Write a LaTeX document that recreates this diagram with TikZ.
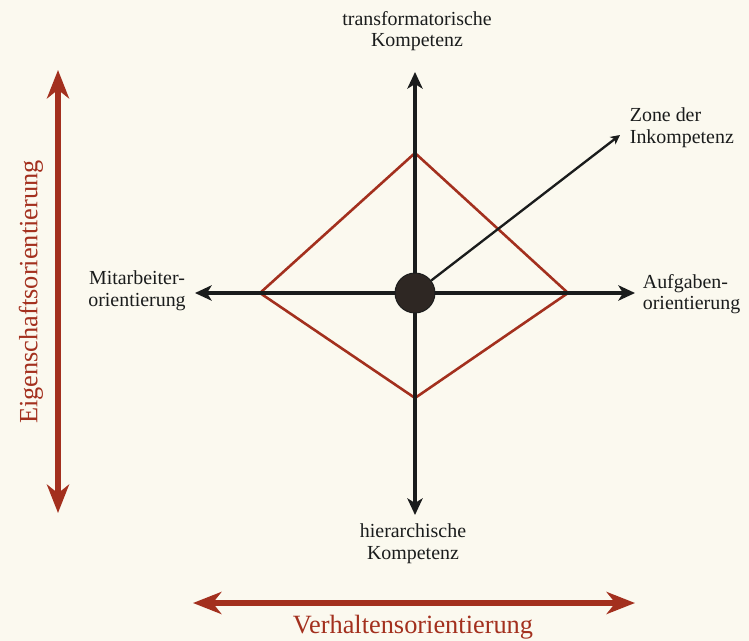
\documentclass[tikz,border=0pt]{standalone}
\usepackage{fontspec}
\setmainfont{Liberation Serif}
\usetikzlibrary{arrows.meta, positioning}
\definecolor{cred}{HTML}{A3301E}
\definecolor{cink}{HTML}{1A1C1C}
\definecolor{cdot}{HTML}{2E2723}
\definecolor{cpaper}{HTML}{FBF9EF}
\tikzset{
  every picture/.style={line width=1.2pt},
  lbl/.style={align=center, text=cink, font=\fontsize{17}{18.5}\selectfont, inner sep=1pt},
  axis/.style={-{Stealth[length=5mm, width=4.6mm, inset=1.4mm]}, draw=cink, line width=2.8pt},
  pointer/.style={-{Stealth[length=2.8mm, width=2.8mm, inset=0.8mm]}, draw=cink, line width=2pt},
  dim/.style={{Stealth[length=8.5mm, width=6.6mm, inset=2.6mm]}-{Stealth[length=8.5mm, width=6.6mm, inset=2.6mm]}, draw=cred, line width=4.5pt},
  dimlbl/.style={text=cred, font=\fontsize{22.5}{25}\selectfont, inner sep=0pt},
  zone/.style={draw=cred, line width=2.2pt, line join=miter},
}
\begin{document}
\begin{tikzpicture}[x=0.03cm, y=-0.03cm]
  \fill[cpaper] (0,0) rectangle (749,641);
  \useasboundingbox (0,0) rectangle (749,641);
  % diamond zone
  \coordinate (dt) at (415,153);
  \coordinate (dr) at (568,293);
  \coordinate (db) at (415,398);
  \coordinate (dl) at (260,293);
  \draw[zone] (dt) -- (dr) -- (db) -- (dl) -- cycle;
  % axes
  \coordinate (o) at (415,293);
  \coordinate (ttip) at (415,72);
  \coordinate (btip) at (415,515);
  \coordinate (ltip) at (195,293);
  \coordinate (rtip) at (635,293);
  \foreach \t in {ttip, btip, ltip, rtip} \draw[axis] (o) -- (\t);
  \node[circle, fill=cdot, draw=cink, line width=0.8pt, minimum size=1.2cm, inner sep=0pt] (c) at (o) {};
  % labels
  \node[lbl] (top) at (417,31) {transformatorische\\Kompetenz};
  \node[lbl] (bot) at (413,544) {hierarchische\\Kompetenz};
  \node[lbl] (left) at (137,291) {Mitarbeiter-\\orientierung};
  \node[lbl, align=left, anchor=west] (right) at (641,294) {Aufgaben-\\orientierung};
  \node[lbl, align=left, anchor=west] (zone) at (628,128) {Zone der\\Inkompetenz};
  \coordinate (ztip) at (620,135);
  \draw[pointer] (c) -- (ztip);
  % outer scales
  \coordinate (e1) at (58,70);
  \coordinate (e2) at (58,513);
  \draw[dim] (e1) -- (e2);
  \node[dimlbl, rotate=90] (eig) at (31,292) {Eigenschaftsorientierung};
  \coordinate (v1) at (193,603);
  \coordinate (v2) at (635,603);
  \draw[dim] (v1) -- (v2);
  \node[dimlbl] (verh) at (413,627) {Verhaltensorientierung};
\end{tikzpicture}
\end{document}
